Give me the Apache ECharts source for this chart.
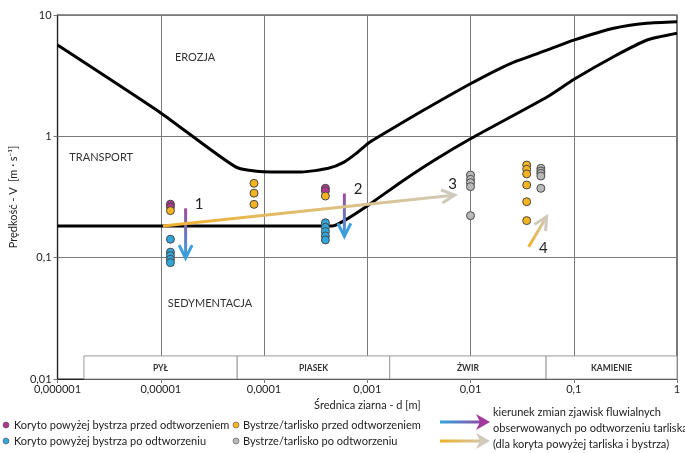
<!DOCTYPE html>
<html>
<head>
<meta charset="utf-8">
<script src="https://cdn.jsdelivr.net/npm/echarts@6/dist/echarts.min.js"></script>
<style>
html,body{margin:0;padding:0;background:#fff;}
#chart{width:685px;height:453px;}
</style>
</head>
<body>
<div id="chart"></div>
<script>
// ---------- DATA ----------
const xTickLabels = ['0,000001','0,00001','0,0001','0,001','0,01','0,1','1'];
const yTickLabels = ['0,01','0,1','1','10'];

// Hjulström-type curves [d (m), V (m/s)]
const erosionCurve = [
  [0.000001,5.66],[0.00001,1.56],[0.000053,0.56],[0.000097,0.51],[0.00023,0.508],
  [0.00042,0.545],[0.00059,0.61],[0.000794,0.73],[0.00103,0.881],[0.00148,1.064],
  [0.00314,1.556],[0.0102,2.74],[0.0247,4.0],[0.0558,5.15],[0.1,6.2],[0.244,7.77],[0.51,8.55],[1,8.8]
];
const sedimentationCurve = [
  [0.000001,0.182],[0.000456,0.182],[0.00061,0.204],[0.00103,0.272],[0.00215,0.423],
  [0.0045,0.638],[0.0102,0.964],[0.0557,2.12],
  [0.1007,2.95],[0.2427,4.53],[0.513,6.22],[1,7.07]
];

// Observations [d (m), V (m/s)]
const korytoPrzed = [[0.0000124,0.276],[0.0000124,0.262],[0.000393,0.373],[0.000393,0.355]];
const korytoPo = [
  [0.0000124,0.142],[0.0000124,0.111],[0.0000124,0.104],[0.0000124,0.097],[0.0000124,0.091],
  [0.000393,0.194],[0.000393,0.178],[0.000393,0.164],[0.000393,0.151],[0.000393,0.140]
];
const bystrzePrzed = [
  [0.0000124,0.244],[0.00008,0.41],[0.00008,0.34],[0.00008,0.275],[0.000393,0.322],
  [0.035,0.58],[0.035,0.535],[0.035,0.49],[0.035,0.397],[0.035,0.289],[0.035,0.202]
];
const bystrzePo = [
  [0.01,0.48],[0.01,0.442],[0.01,0.415],[0.01,0.385],[0.01,0.222],
  [0.048,0.545],[0.048,0.517],[0.048,0.495],[0.048,0.471],[0.048,0.373]
];

// Direction-of-change arrows [d1, V1, d2, V2, paletteIndex]
const changeArrows = [
  [0.0000174,0.255,0.0000174,0.099,0],
  [0.0006,0.338,0.0006,0.150,0],
  [0.0000105,0.182,0.00703,0.328,1],
  [0.0366,0.123,0.0546,0.218,1]
];
// arrow numbers [d, V] and texts
const arrowNumberPos = [[0.0000213,0.277],[0.00074,0.368],[0.0061,0.405],[0.046,0.12]];
const arrowNumberText = ['1','2','3','4'];

// Region names
const regionPos = [[0.0000137,4.43],[0.0000013,0.676],[0.0000117,0.0423]];
const regionText = ['EROZJA','TRANSPORT','SEDYMENTACJA'];

// Grain-size classes: boundaries along d, names
const grainBounds = [0.0000018,0.000055,0.00165,0.054,1];
const grainNames = ['PYŁ','PIASEK','ŻWIR','KAMIENIE'];
const grainBandV = [0.01,0.0155];

// ---------- STYLE ----------
const FONT = 'Lato, "Open Sans", sans-serif';
const cMagenta = '#b0378f', cOrange = '#f4b322', cBlue = '#2fa6dc', cGray = '#b9b9b9';
const arrowPalettes = [['#a04a9f','#3a9fdc'],['#f1b12c','#cfcabb']];

function fmtLog(labels, minExp){
  return function(v){
    const e = Math.round(Math.log10(v));
    return labels[e - minExp] || '';
  };
}

function arrowItem(params, api){
  const p1 = api.coord([api.value(0), api.value(1)]);
  const p2 = api.coord([api.value(2), api.value(3)]);
  const c = arrowPalettes[api.value(4)];
  const ang = Math.atan2(p2[1]-p1[1], p2[0]-p1[0]);
  const L = 13, W = 6.5;
  const bx = p2[0]-L*Math.cos(ang), by = p2[1]-L*Math.sin(ang);
  const nx = -Math.sin(ang), ny = Math.cos(ang);
  return {type:'group', children:[
    {type:'line', shape:{x1:p1[0],y1:p1[1],x2:p2[0]-1.5*Math.cos(ang),y2:p2[1]-1.5*Math.sin(ang)},
     style:{stroke:new echarts.graphic.LinearGradient(p1[0],p1[1],p2[0],p2[1],
       [{offset:0,color:c[0]},{offset:1,color:c[1]}],true), lineWidth:3}},
    {type:'polyline', shape:{points:[[bx+nx*W,by+ny*W],[p2[0],p2[1]],[bx-nx*W,by-ny*W]]},
     style:{stroke:c[1], lineWidth:3, fill:null, lineJoin:'miter'}}
  ]};
}

function grainItem(params, api){
  const a = api.coord([api.value(0), grainBandV[1]]);
  const b = api.coord([api.value(1), grainBandV[0]]);
  return {type:'group', children:[
    {type:'rect', shape:{x:a[0], y:a[1], width:b[0]-a[0], height:b[1]-a[1]},
     style:{fill:'#fff', stroke:'#9a9a9a', lineWidth:1}},
    {type:'text', style:{text:grainNames[params.dataIndex], x:(a[0]+b[0])/2, y:(a[1]+b[1])/2+1,
      textAlign:'center', textVerticalAlign:'middle', fill:'#333', font:'bold 8.5px '+FONT}}
  ]};
}

function textItem(texts, size, color){
  return function(params, api){
    const p = api.coord([api.value(0), api.value(1)]);
    return {type:'text', style:{text:texts[params.dataIndex], x:p[0], y:p[1], textAlign:'left',
      textVerticalAlign:'middle', fill:color, font:size+'px '+FONT}};
  };
}

function scatterSeries(data, color){
  return {type:'scatter', data:data, symbol:'circle', symbolSize:8, z:5,
    itemStyle:{color:color, borderColor:'#4a4a4a', borderWidth:1, opacity:1}};
}

// Legend graphics
function legendDot(x, y, color){
  return {type:'circle', shape:{cx:x, cy:y, r:3}, style:{fill:color, stroke:'#555', lineWidth:0.6}};
}
function legendText(x, y, t){
  return {type:'text', style:{text:t, x:x, y:y, textVerticalAlign:'middle', fill:'#222', font:'11px '+FONT}};
}
function legendArrow(x1, x2, y, c){
  return [
    {type:'line', shape:{x1:x1, y1:y, x2:x2-4, y2:y}, style:{stroke:new echarts.graphic.LinearGradient(x1,y,x2,y,[{offset:0,color:c[0]},{offset:1,color:c[1]}],true), lineWidth:3}},
    {type:'polygon', shape:{points:[[x2-14,y-8],[x2,y],[x2-14,y+8],[x2-10,y]]}, style:{fill:c[1]}}
  ];
}

const chart = echarts.init(document.getElementById('chart'), null, {renderer:'canvas'});
chart.setOption({
  animation:false,
  backgroundColor:'#fff',
  textStyle:{fontFamily:FONT},
  grid:{left:54, right:8, top:15, bottom:74, show:true, borderColor:'#222', borderWidth:1.2},
  xAxis:{
    type:'log', min:0.000001, max:1, logBase:10, interval:1,
    name:'Średnica ziarna - d [m]', nameLocation:'middle', nameGap:21,
    nameTextStyle:{fontSize:11, color:'#222', fontFamily:FONT},
    axisLine:{show:true, lineStyle:{color:'#222', width:1.2}},
    axisTick:{show:true, length:4, lineStyle:{color:'#777'}},
    axisLabel:{formatter:fmtLog(xTickLabels,-6), fontSize:11, color:'#222', margin:5, fontFamily:FONT},
    splitLine:{show:true, lineStyle:{color:'#7a7a7a', width:1}},
    minorTick:{show:false}
  },
  yAxis:{
    type:'log', min:0.01, max:10, logBase:10, interval:1,
    name:'Prędkość - V  [m · s\u207B\u00B9]', nameLocation:'middle', nameGap:25, nameRotate:90,
    nameTextStyle:{fontSize:11, color:'#222', fontFamily:FONT},
    axisLine:{show:true, lineStyle:{color:'#222', width:1.2}},
    axisTick:{show:true, length:4, lineStyle:{color:'#777'}},
    axisLabel:{formatter:fmtLog(yTickLabels,-2), fontSize:11, color:'#222', margin:6, fontFamily:FONT},
    splitLine:{show:true, lineStyle:{color:'#7a7a7a', width:1}},
    minorTick:{show:false}
  },
  series:[
    {type:'custom', renderItem:grainItem, data:grainNames.map((n,i)=>[grainBounds[i],grainBounds[i+1]]),
     encode:{x:[0,1]}, z:2, silent:true},
    {type:'line', data:erosionCurve, showSymbol:false, symbol:'none', smooth:0.2,
     lineStyle:{color:'#000', width:3}, z:3},
    {type:'line', data:sedimentationCurve, showSymbol:false, symbol:'none', smooth:0.2,
     lineStyle:{color:'#000', width:3}, z:3},
    {type:'custom', renderItem:arrowItem, data:changeArrows, encode:{x:[0,2], y:[1,3]}, z:4, silent:true},
    scatterSeries(korytoPrzed, cMagenta),
    scatterSeries(bystrzePrzed, cOrange),
    scatterSeries(korytoPo, cBlue),
    scatterSeries(bystrzePo, cGray),
    {type:'custom', renderItem:textItem(regionText,11,'#333'), data:regionPos, encode:{x:0,y:1}, z:6, silent:true},
    {type:'custom', renderItem:textItem(arrowNumberText,15,'#222'), data:arrowNumberPos, encode:{x:0,y:1}, z:6, silent:true}
  ],
  graphic:[].concat(
    [legendDot(6,425,cMagenta), legendText(14,425,'Koryto powyżej bystrza przed odtworzeniem'),
     legendDot(236,425,cOrange), legendText(243,425,'Bystrze/tarlisko przed odtworzeniem'),
     legendDot(6,441,cBlue), legendText(14,441,'Koryto powyżej bystrza po odtworzeniu'),
     legendDot(236,441,cGray), legendText(243,441,'Bystrze/tarlisko po odtworzeniu'),
     legendText(493,412,'kierunek zmian zjawisk fluwialnych'),
     legendText(493,428,'obserwowanych po odtworzeniu tarliska'),
     legendText(493,444,'(dla koryta powyżej tarliska i bystrza)')],
    legendArrow(440,490,422,['#2fa6dc','#a03a9c']),
    legendArrow(440,490,441,arrowPalettes[1])
  )
});
</script>
</body>
</html>
